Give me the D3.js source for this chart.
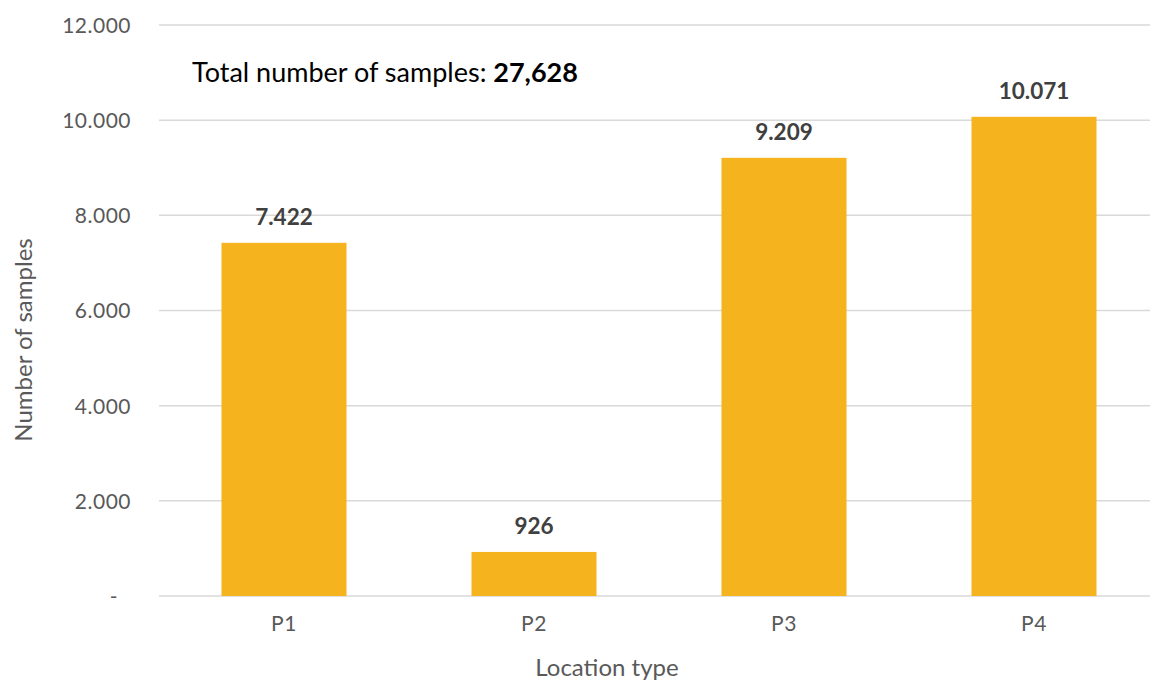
<!DOCTYPE html>
<html>
<head>
<meta charset="utf-8">
<script src="https://cdn.jsdelivr.net/npm/d3@7"></script>
<style>
  html, body { margin: 0; padding: 0; background: #fff; }
  svg text { font-family: "Lato", "DejaVu Sans", sans-serif; }
</style>
</head>
<body>
<svg id="chart" width="1150" height="680"></svg>
<script>
// Samples per location type
const categories = ["P1", "P2", "P3", "P4"];
const values = [7422, 926, 9209, 10071];
const yTicks = [0, 2000, 4000, 6000, 8000, 10000, 12000];
const totalLabel = "27,628";

const width = 1150, height = 680;
const margin = { top: 25, right: -9, bottom: 84, left: 159 };

const svg = d3.select("#chart");

const x = d3.scaleBand()
  .domain(categories)
  .range([margin.left, width - margin.right])
  .paddingInner(0.5)
  .paddingOuter(0.25);

const y = d3.scaleLinear()
  .domain([0, 12000])
  .range([height - margin.bottom, margin.top]);

// Thousands separator as a dot, zero shown as a dash
const fmt = v => v === 0 ? "-" : d3.format(",")(v).replace(/,/g, ".");

// Horizontal grid lines
svg.append("g")
  .selectAll("line")
  .data(yTicks)
  .join("line")
  .attr("x1", margin.left)
  .attr("x2", width)
  .attr("y1", d => y(d))
  .attr("y2", d => y(d))
  .attr("stroke", "#d9d9d9")
  .attr("stroke-width", 1.5);

// Y axis labels
const yAxis = d3.axisLeft(y).tickValues(yTicks).tickFormat(fmt).tickSize(0).tickPadding(0);
const yg = svg.append("g")
  .attr("transform", `translate(${margin.left - 28},0)`)
  .call(yAxis);
yg.select(".domain").remove();
yg.selectAll("text")
  .attr("fill", "#595959")
  .style("font-size", "21px")
  .style("letter-spacing", "0.5px")
  .attr("dy", "0.35em");
yg.selectAll(".tick")
  .filter(d => d === 0)
  .select("text")
  .attr("dx", "-13");

// Bars
svg.append("g")
  .selectAll("rect")
  .data(values)
  .join("rect")
  .attr("x", (d, i) => x(categories[i]))
  .attr("width", x.bandwidth())
  .attr("y", d => y(d))
  .attr("height", d => y(0) - y(d))
  .attr("fill", "#f5b41e");

// Value labels above bars
svg.append("g")
  .selectAll("text")
  .data(values)
  .join("text")
  .attr("x", (d, i) => x(categories[i]) + x.bandwidth() / 2)
  .attr("y", d => y(d) - 18)
  .attr("text-anchor", "middle")
  .attr("fill", "#404040")
  .style("font-size", "22.5px")
  .style("font-weight", "bold")
  .text(d => fmt(d));

// X axis labels
const xAxis = d3.axisBottom(x).tickSize(0).tickPadding(0);
const xg = svg.append("g")
  .attr("transform", `translate(0,${y(0) + 35})`)
  .call(xAxis);
xg.select(".domain").remove();
xg.selectAll("text")
  .attr("fill", "#595959")
  .style("font-size", "21px")
  .style("letter-spacing", "0.5px")
  .attr("dy", "0");

// Axis titles
svg.append("text")
  .attr("x", 607)
  .attr("y", 676)
  .attr("text-anchor", "middle")
  .attr("fill", "#595959")
  .style("font-size", "24px")
  .text("Location type");

svg.append("text")
  .attr("transform", `translate(32,340) rotate(-90)`)
  .attr("text-anchor", "middle")
  .attr("fill", "#595959")
  .style("font-size", "24px")
  .text("Number of samples");

// Total annotation
const note = svg.append("text")
  .attr("x", 192)
  .attr("y", 82)
  .attr("fill", "#000")
  .style("font-size", "27px");
note.append("tspan").text("Total number of samples: ");
note.append("tspan").style("font-weight", "bold").text(totalLabel);
</script>
</body>
</html>
